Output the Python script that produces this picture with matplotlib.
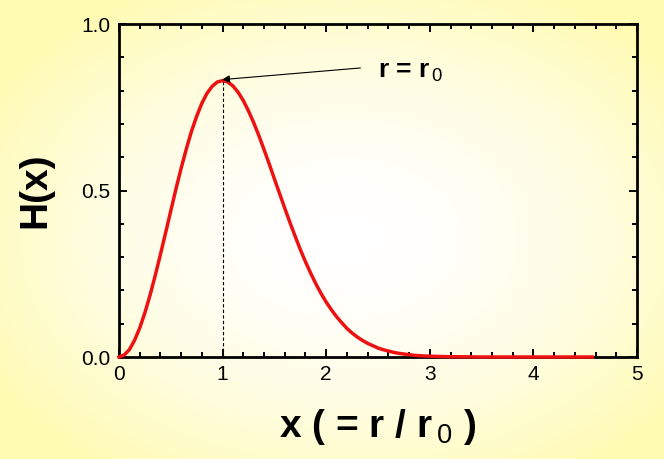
import numpy as np
import matplotlib
matplotlib.use('Agg')
import matplotlib.pyplot as plt

plt.rcParams['font.family'] = ['Liberation Sans', 'DejaVu Sans']
plt.rcParams['mathtext.fontset'] = 'custom'
plt.rcParams['mathtext.rm'] = 'Liberation Sans'
plt.rcParams['mathtext.bf'] = 'Liberation Sans:bold'

# H(x)
x_vals = [0.0, 0.05, 0.1, 0.15, 0.2, 0.25, 0.3, 0.35, 0.4, 0.45, 0.5,
          0.55, 0.6, 0.65, 0.7, 0.75, 0.8, 0.85, 0.9, 0.95, 1.0,
          1.05, 1.1, 1.15, 1.2, 1.25, 1.3, 1.35, 1.4, 1.45, 1.5,
          1.55, 1.6, 1.65, 1.7, 1.75, 1.8, 1.85, 1.9, 1.95, 2.0,
          2.05, 2.1, 2.15, 2.2, 2.25, 2.3, 2.35, 2.4, 2.45, 2.5,
          2.55, 2.6, 2.65, 2.7, 2.75, 2.8, 2.85, 2.9, 2.95, 3.0,
          3.1, 3.2, 3.5, 4.0, 4.57]
h_vals = [0.000, 0.006, 0.022, 0.050, 0.087, 0.133, 0.186, 0.245, 0.308, 0.373, 0.439,
          0.505, 0.567, 0.625, 0.678, 0.723, 0.762, 0.792, 0.813, 0.826, 0.830,
          0.826, 0.814, 0.795, 0.770, 0.739, 0.704, 0.665, 0.623, 0.580, 0.535,
          0.491, 0.447, 0.404, 0.363, 0.323, 0.286, 0.252, 0.220, 0.191, 0.165,
          0.142, 0.121, 0.103, 0.086, 0.072, 0.060, 0.050, 0.041, 0.034, 0.027,
          0.022, 0.018, 0.014, 0.011, 0.009, 0.007, 0.005, 0.004, 0.003, 0.0025,
          0.0015, 0.001, 0.000, 0.000, 0.000]
peak_x = 1.0
peak_h = 0.830
x_ticks = [0, 1, 2, 3, 4, 5]
y_ticks = [0.0, 0.5, 1.0]

fig = plt.figure(figsize=(6.64, 4.59), dpi=100)

# yellow/white background gradient
bg = fig.add_axes([0, 0, 1, 1], zorder=0)
gx, gy = np.meshgrid(np.linspace(0, 1, 332), np.linspace(0, 1, 230))
t = np.sqrt(((gx - 0.52) / 0.62) ** 2 + ((gy - 0.52) / 0.62) ** 2)
t = np.clip(t, 0, 1) ** 1.8
white = np.array([1.0, 1.0, 1.0])
yellow = np.array([1.0, 0.985, 0.70])
img = white[None, None, :] * (1 - t[..., None]) + yellow[None, None, :] * t[..., None]
bg.imshow(img, aspect='auto', extent=[0, 1, 0, 1], origin='upper')
bg.axis('off')

ax = fig.add_axes([0.1792, 0.2222, 0.7801, 0.7255], zorder=1)
ax.set_facecolor('none')

ax.plot(x_vals, h_vals, color='#ee1111', lw=2.5, zorder=3, clip_on=False,
        solid_joinstyle='round')
ax.plot([peak_x, peak_x], [0, peak_h], color='black', lw=0.8, ls=(0, (3, 2)))

ax.annotate('', xy=(0.995, 0.833), xytext=(2.33, 0.868),
            arrowprops=dict(arrowstyle='-|>', color='black', lw=0.8,
                            mutation_scale=11, shrinkA=0, shrinkB=0))
ax.text(2.50, 0.84, r'r = r$_{\,\mathrm{0}}$', fontsize=19, fontweight='bold')

ax.set_xlim(0, 5)
ax.set_ylim(0, 1)
ax.set_xticks(x_ticks)
ax.set_yticks(y_ticks)
ax.set_xticks(np.arange(0, 5.01, 0.2), minor=True)
ax.set_yticks(np.arange(0, 1.01, 0.1), minor=True)
ax.set_xticklabels([str(v) for v in x_ticks])
ax.set_yticklabels(['%.1f' % v for v in y_ticks])
ax.tick_params(which='both', direction='in', top=True, right=True, width=1.4)
ax.tick_params(which='major', length=6, labelsize=15, pad=6)
ax.tick_params(which='minor', length=3.5)
for s in ax.spines.values():
    s.set_linewidth(2.0)

ax.set_xlabel(r'x ( = r / r$_{\,\mathrm{0}}$ )', fontsize=28, fontweight='bold', labelpad=16)
ax.set_ylabel('H(x)', fontsize=28, fontweight='bold', labelpad=20)

fig.savefig('out.png', dpi=100)
